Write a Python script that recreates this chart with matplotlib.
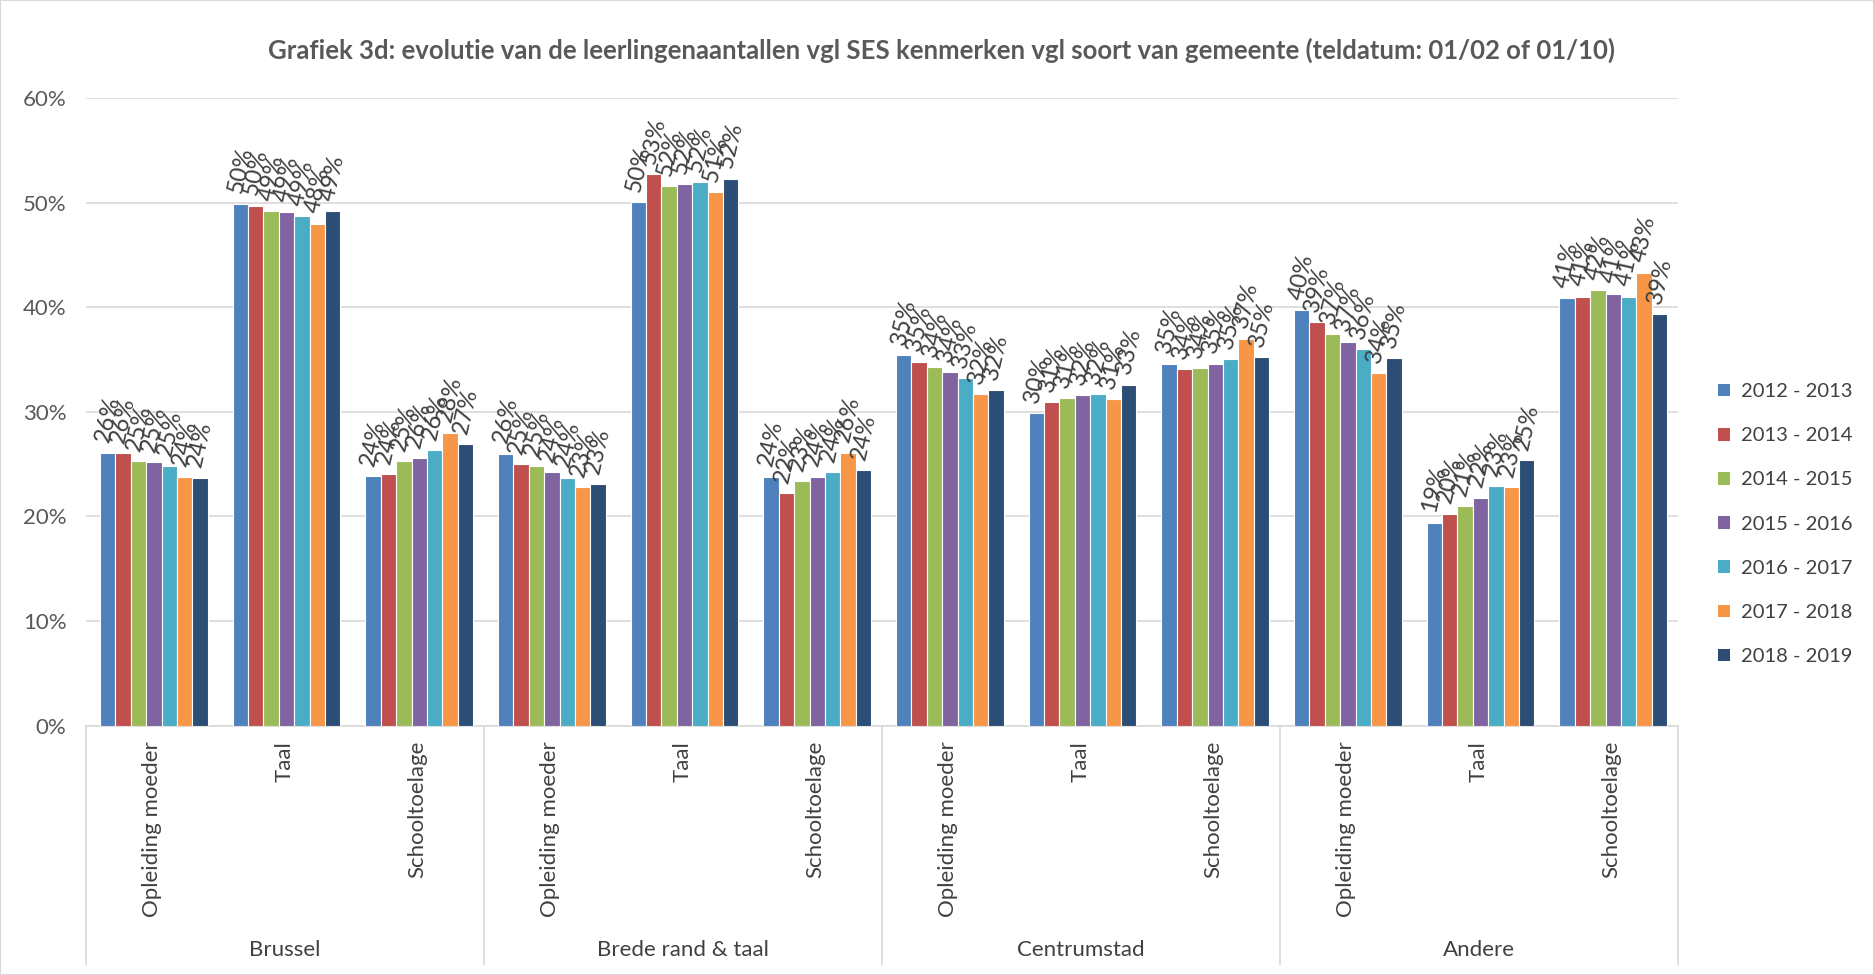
import matplotlib
matplotlib.use('Agg')
import matplotlib.pyplot as plt
import matplotlib.transforms as mtransforms
from matplotlib.patches import Patch, Rectangle

plt.rcParams['font.family'] = ['Lato', 'DejaVu Sans']

groups = ['Brussel', 'Brede rand & taal', 'Centrumstad', 'Andere']
categories = ['Opleiding moeder', 'Taal', 'Schooltoelage'] * 4
years = ['2012 - 2013', '2013 - 2014', '2014 - 2015', '2015 - 2016',
         '2016 - 2017', '2017 - 2018', '2018 - 2019']

# percentages, order: per group -> opleiding moeder, taal, schooltoelage
v2012 = [26.1, 49.9, 23.85, 26.0, 50.05, 23.8, 35.4, 29.85, 34.6, 39.7, 19.4, 40.9]
v2013 = [26.05, 49.7, 24.07, 25.0, 52.7, 22.2, 34.8, 30.9, 34.1, 38.6, 20.25, 41.0]
v2014 = [25.3, 49.2, 25.3, 24.8, 51.6, 23.4, 34.3, 31.3, 34.2, 37.4, 21.0, 41.6]
v2015 = [25.2, 49.1, 25.6, 24.2, 51.8, 23.8, 33.8, 31.6, 34.6, 36.7, 21.8, 41.3]
v2016 = [24.8, 48.7, 26.3, 23.7, 51.96, 24.2, 33.2, 31.7, 35.0, 36.0, 22.9, 41.0]
v2017 = [23.8, 48.0, 28.0, 22.8, 50.97, 26.1, 31.7, 31.2, 37.0, 33.7, 22.8, 43.3]
v2018 = [23.7, 49.2, 26.9, 23.1, 52.3, 24.4, 32.1, 32.6, 35.2, 35.1, 25.4, 39.3]
series = [v2012, v2013, v2014, v2015, v2016, v2017, v2018]

colors = ['#4F81BD', '#C0504D', '#9BBB59', '#8064A2', '#4BACC6', '#F79646', '#2C4D75']

fig = plt.figure(figsize=(18.74, 9.75), dpi=100)
ax = fig.add_axes([86/1874, 1-725.5/975, (1678-86)/1874, (725.5-98)/975])

w = 0.116
for j, vals in enumerate(series):
    xs = [i + (j - 2.9) * w for i in range(len(vals))]
    ax.bar(xs, vals, width=w, color=colors[j], edgecolor='white', linewidth=0.8,
           label=years[j], zorder=3)
    for x, v in zip(xs, vals):
        ax.annotate('{:.0f}%'.format(v), (x, v), xytext=(0, 6),
                    textcoords='offset points', rotation=77,
                    ha='center', va='bottom', fontsize=17, color='#404040')

ax.set_xlim(-0.5, 11.5)
ax.set_ylim(0, 60)
ax.set_yticks(range(0, 61, 10))
ax.set_yticklabels(['{}%'.format(t) for t in range(0, 61, 10)], fontsize=16, color='#595959')
ax.yaxis.grid(True, color='#D9D9D9', linewidth=1.2, zorder=0)
ax.tick_params(axis='y', length=0, pad=14)
ax.set_xticks(range(12))
ax.set_xticklabels(categories, rotation=90, fontsize=16, color='#404040')
ax.tick_params(axis='x', length=0, pad=11)
for s in ['top', 'right', 'left']:
    ax.spines[s].set_visible(False)
ax.spines['bottom'].set_color('#D9D9D9')
ax.spines['bottom'].set_linewidth(1.2)

trans = mtransforms.blended_transform_factory(ax.transData, ax.transAxes)
h = 725.5 - 98
for xb in [-0.5, 2.5, 5.5, 8.5, 11.5]:
    ax.plot([xb, xb], [0, (725.5 - 964) / h], transform=trans, color='#D9D9D9',
            linewidth=1.2, clip_on=False)
for k, g in enumerate(groups):
    ax.text(3 * k + 1, (725.5 - 950) / h, g, transform=trans, ha='center', va='center',
            fontsize=16, color='#404040')

fig.text(942/1874, 1 - 50/975, 'Grafiek 3d: evolutie van de leerlingenaantallen vgl SES kenmerken vgl soort van gemeente (teldatum: 01/02 of 01/10)',
         ha='center', va='center', fontsize=18.5, fontweight='bold', color='#595959')

handles = [Patch(facecolor=c, edgecolor='none') for c in colors]
fig.legend(handles, years, loc='upper left', bbox_to_anchor=(1708/1874, 1 - 373/975),
           frameon=False, fontsize=14.5, labelcolor='#404040', handlelength=0.6,
           handleheight=0.6, handletextpad=0.55, labelspacing=1.35, borderpad=0)

fig.patches.append(Rectangle((0, 0), 1, 1, transform=fig.transFigure, fill=False,
                             edgecolor='#D9D9D9', linewidth=1.5))

fig.savefig('out.png', dpi=100)
